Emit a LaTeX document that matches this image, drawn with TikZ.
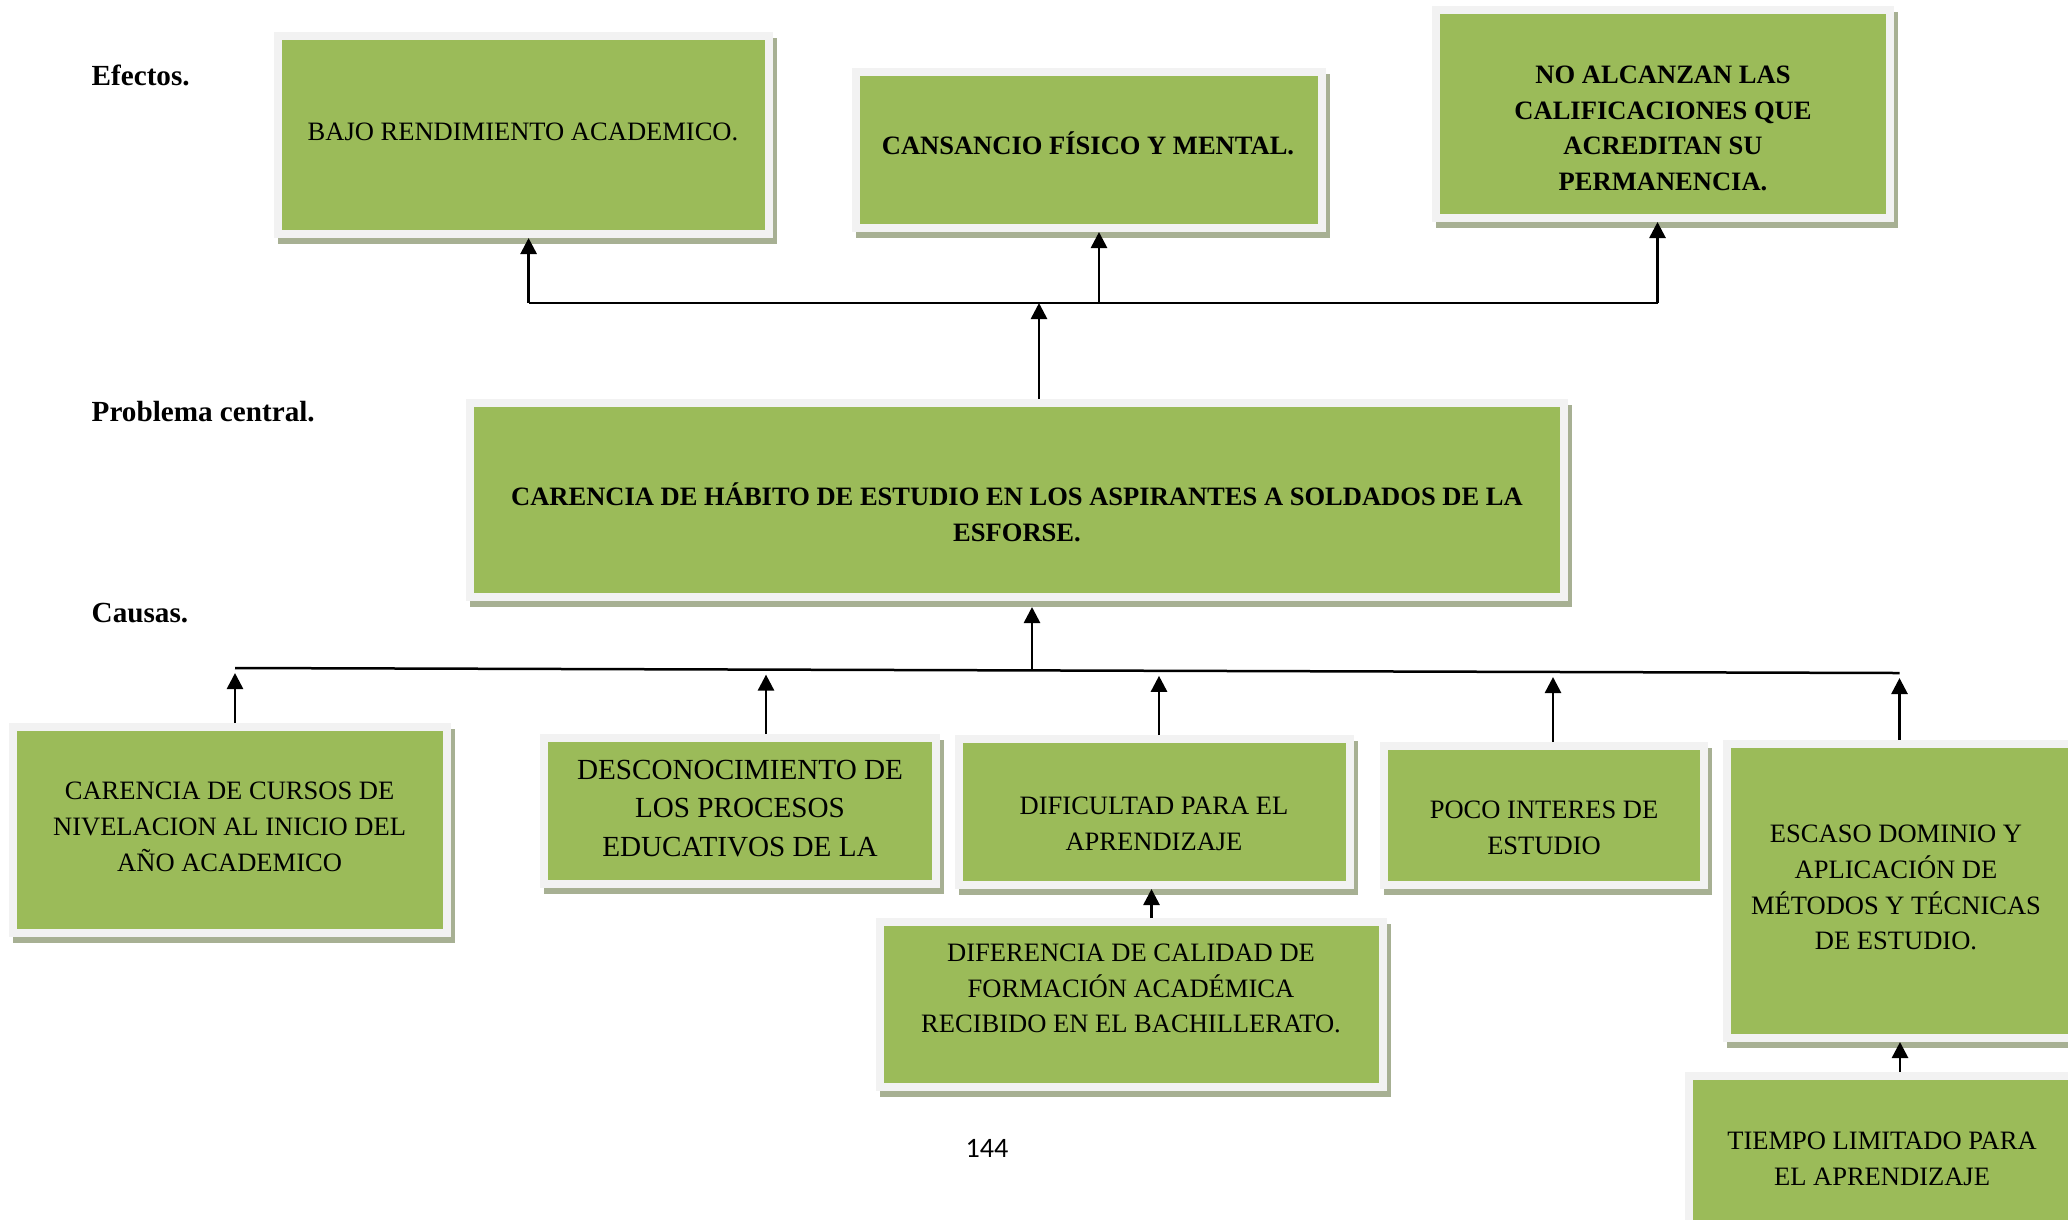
\documentclass[tikz,border=0pt]{standalone}
\usepackage{fontspec}
\setmainfont{Liberation Serif}
\newfontfamily\pagefont{Carlito}
\usetikzlibrary{arrows.meta}
\definecolor{boxgreen}{HTML}{9BBB59}
\definecolor{boxframe}{HTML}{F2F2F2}
\definecolor{boxshadow}{HTML}{A7B093}
\tikzset{
  box/.style 2 args={rectangle, fill=boxgreen, draw=boxframe, line width=0.8mm,
    minimum width=#1, minimum height=#2, inner sep=0pt,
    preaction={fill=boxshadow, draw=boxshadow, line width=0.8mm,
      transform canvas={shift={(0.4mm,-0.6mm)}}}},
  txt/.style={align=center, inner sep=0pt, font=\fontsize{7.55}{10.2}\selectfont},
  btxt/.style={txt, font=\fontsize{7.55}{10.1}\selectfont\bfseries},
  lab/.style={anchor=base west, inner sep=0pt, font=\fontsize{8.3}{10}\selectfont\bfseries},
  arr/.style={line width=0.27mm, -{Triangle[length=1.6mm,width=1.6mm]}},
  bus/.style={line width=0.25mm}
}
\begin{document}
\begin{tikzpicture}[x=0.1mm,y=-0.1mm]
\useasboundingbox (0,0) rectangle (2068,1219);
\clip (0,0) rectangle (2068,1219);
% row labels
\node[lab] (l-ef) at (91,85) {Efectos.};
\node[lab] (l-pc) at (91,421) {Problema central.};
\node[lab] (l-ca) at (91,622.5) {Causas.};
% effects
\node[box={49.1mm}{19.8mm}] (bajo) at (523.5,135) {};
\node[txt] (bajo-t) at (523,132) {BAJO RENDIMIENTO ACADEMICO.};
\node[box={46.6mm}{15.6mm}] (cansancio) at (1089,150) {};
\node[btxt] (cansancio-t) at (1088,143) {CANSANCIO FÍSICO Y MENTAL.};
\node[box={45.4mm}{20.8mm}] (noalc) at (1663,114) {};
\node[btxt] (noalc-t) at (1663,128.5) {NO ALCANZAN LAS\\CALIFICACIONES QUE\\ACREDITAN SU\\PERMANENCIA.};
% central problem
\node[box={109.4mm}{19.4mm}] (central) at (1017,500) {};
\node[btxt] (central-t) at (1017,512.5) {CARENCIA DE HÁBITO DE ESTUDIO EN LOS ASPIRANTES A SOLDADOS DE LA\\ESFORSE.};
% causes
\node[box={43.4mm}{20.6mm}] (carencia) at (230,830) {};
\node[txt] (carencia-t) at (229.6,827) {CARENCIA DE CURSOS DE\\NIVELACION AL INICIO DEL\\AÑO ACADEMICO};
\node[box={39.2mm}{14.6mm}] (desconoc) at (740,811) {};
\node[txt, font=\fontsize{8.3}{10.95}\selectfont] (desconoc-t) at (740,808.5) {DESCONOCIMIENTO DE\\LOS PROCESOS\\EDUCATIVOS DE LA};
\node[box={39.1mm}{14.6mm}] (dificultad) at (1154.5,812) {};
\node[txt] (dificultad-t) at (1154,823.5) {DIFICULTAD PARA EL\\APRENDIZAJE};
\node[box={50.3mm}{16.5mm}] (diferencia) at (1131.5,1004.5) {};
\node[txt] (diferencia-t) at (1131,988.5) {DIFERENCIA DE CALIDAD DE\\FORMACIÓN ACADÉMICA\\RECIBIDO EN EL BACHILLERATO.};
\node[box={32.0mm}{13.9mm}] (poco) at (1544,815.5) {};
\node[txt] (poco-t) at (1544,828) {POCO INTERES DE\\ESTUDIO};
\node[box={34.6mm}{29.4mm}] (escaso) at (1900,891) {};
\node[txt] (escaso-t) at (1896,887.5) {ESCASO DOMINIO Y\\APLICACIÓN DE\\MÉTODOS Y TÉCNICAS\\DE ESTUDIO.};
\node[box={38.7mm}{15.2mm}] (tiempo) at (1882,1152) {};
\node[txt] (tiempo-t) at (1882,1159) {TIEMPO LIMITADO PARA\\EL APRENDIZAJE};
% page number
\node[anchor=base west, inner sep=0pt, font=\pagefont\fontsize{8}{10}\selectfont] (pag) at (965,1157) {144};
% effects line and arrows
\coordinate (ebL) at (528.6,303);
\coordinate (ebM) at (1099,303);
\coordinate (ebC) at (1039,303);
\coordinate (ebR) at (1657.5,303);
\draw[bus] (ebL) -- (ebR);
\draw[arr] (ebL) -- (bajo.south -| ebL);
\draw[arr] (ebM) -- (cansancio.south -| ebM);
\draw[arr] (ebR) -- (noalc.south -| ebR);
\draw[arr] (central.north -| ebC) -- (ebC);
% causes line and arrows
\coordinate (cb0) at (1032,670.4);
\coordinate (cb1) at (235,668);
\coordinate (cb2) at (766,669.6);
\coordinate (cb3) at (1159,670.8);
\coordinate (cb4) at (1553,672);
\coordinate (cb5) at (1899.5,673);
\draw[bus] (cb1) -- (cb5);
\draw[arr, shorten >=0.6mm] (cb0) -- (central.south -| cb0);
\foreach \b/\c in {carencia/cb1,desconoc/cb2,dificultad/cb3,poco/cb4,escaso/cb5}
  \draw[arr, shorten >=0.5mm] (\b.north -| \c) -- (\c);
\draw[arr] ([xshift=2mm]diferencia.north) -- ([xshift=2mm]diferencia.north |- dificultad.south);
\draw[arr] (tiempo.north -| escaso.south) -- (escaso.south);
\end{tikzpicture}
\end{document}
